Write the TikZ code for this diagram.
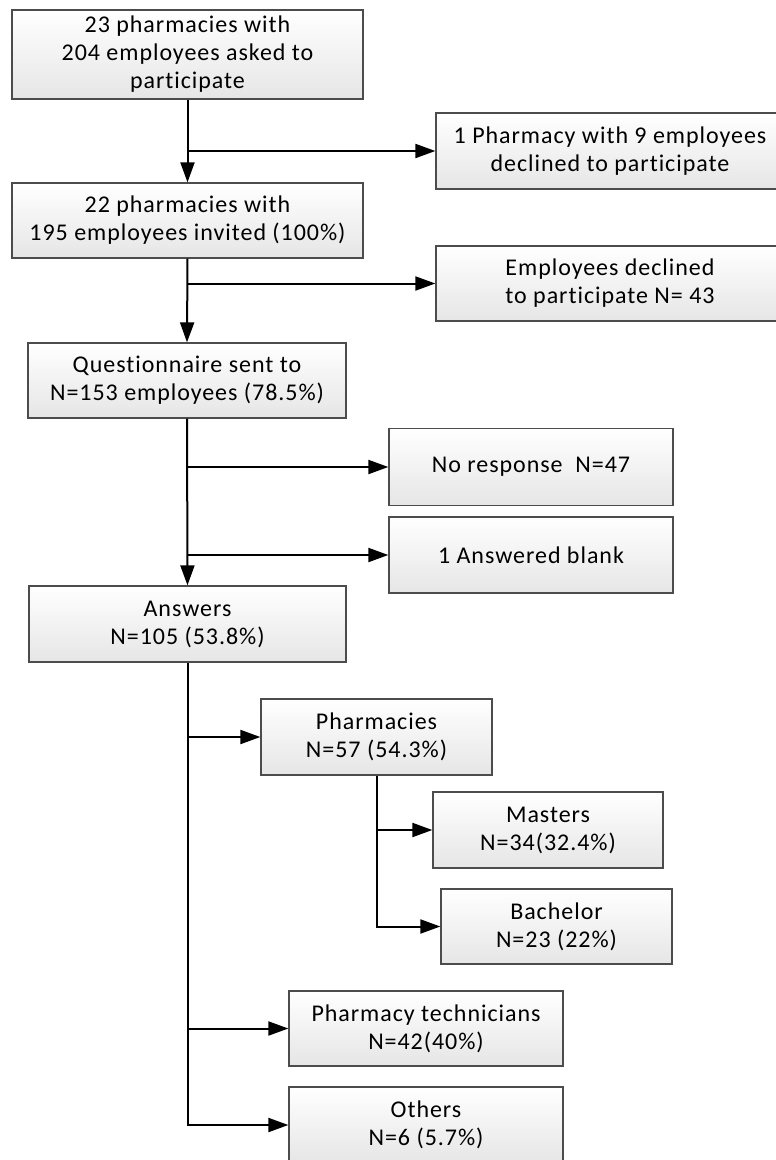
\documentclass[tikz,border=0pt]{standalone}
\usepackage{fontspec}
\setmainfont{Carlito}[LetterSpace=4, Ligatures=NoCommon]
\usetikzlibrary{arrows.meta,positioning,calc}
\tikzset{
    flowbox/.style={draw=black!70, line width=1.3pt, align=center,
        top color=white, bottom color=gray!20,
        font={\fontsize{24}{28}\selectfont}, inner sep=0pt},
    flowarrow/.style={-{Triangle[length=20pt,width=14pt]}, line width=2pt}
}

\begin{document}
\begin{tikzpicture}[x=1pt, y=-1pt]
\clip (0,0) rectangle (776,1160);
% main column
\node[flowbox, minimum width=351pt, minimum height=89pt] (asked) at (187.5,54.5) {23 pharmacies with\\204 employees asked to\\participate};
\node[flowbox, minimum width=348pt, minimum height=76pt] (declpharm) at (610,151) {1 Pharmacy with 9 employees\\declined to participate};
\node[flowbox, minimum width=351pt, minimum height=75pt] (invited) at (187.5,220.5) {22 pharmacies with\\195 employees invited (100\%)};
\node[flowbox, minimum width=348pt, minimum height=75pt] (declemp) at (610,283.5) {Employees declined\\to participate N= 43};
\node[flowbox, minimum width=318pt, minimum height=75pt] (quest) at (187,380.5) {Questionnaire sent to\\N=153 employees (78.5\%)};
\node[flowbox, minimum width=284pt, minimum height=77pt] (noresp) at (531,467) {No response~~N=47};
\node[flowbox, minimum width=284pt, minimum height=76pt] (blank) at (531,555) {1 Answered blank};
\node[flowbox, minimum width=317pt, minimum height=76pt] (answers) at (187.5,624) {Answers\\N=105 (53.8\%)};
% answer groups
\node[flowbox, minimum width=231pt, minimum height=76pt] (pharm) at (376.5,737) {Pharmacies\\N=57 (54.3\%)};
\node[flowbox, minimum width=230pt, minimum height=76pt] (masters) at (548,830) {Masters\\N=34(32.4\%)};
\node[flowbox, minimum width=231pt, minimum height=75pt] (bachelor) at (556.5,926.5) {Bachelor\\N=23 (22\%)};
\node[flowbox, minimum width=274pt, minimum height=75pt] (techs) at (426,1028.5) {Pharmacy technicians\\N=42(40\%)};
\node[flowbox, minimum width=274pt, minimum height=76pt] (others) at (426,1125) {Others\\N=6 (5.7\%)};

\draw[flowarrow] (asked.south) -- (invited.north);
\draw[flowarrow] (asked.south |- declpharm.west) -- (declpharm.west);
\draw[flowarrow] (invited.south) -- (quest.north);
\draw[flowarrow] (invited.south |- declemp.west) -- (declemp.west);
\draw[flowarrow] (quest.south) -- (answers.north);
\draw[flowarrow] (quest.south |- noresp.west) -- (noresp.west);
\draw[flowarrow] (quest.south |- blank.west) -- (blank.west);
\draw[flowarrow] (answers.south) |- (others.west);
\draw[flowarrow] (answers.south |- pharm.west) -- (pharm.west);
\draw[flowarrow] (answers.south |- techs.west) -- (techs.west);
\draw[flowarrow] (pharm.south) |- (bachelor.west);
\draw[flowarrow] (pharm.south |- masters.west) -- (masters.west);
\end{tikzpicture}
\end{document}
